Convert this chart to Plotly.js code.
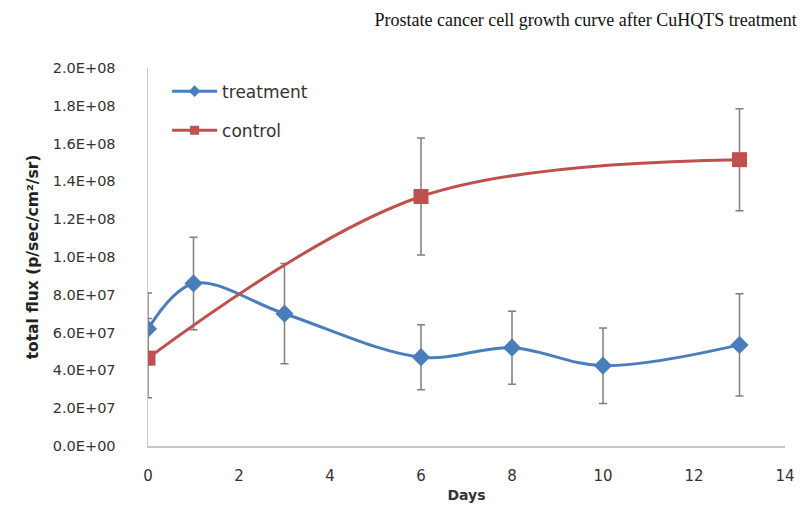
<!DOCTYPE html>
<html>
<head>
<meta charset="utf-8">
<script src="https://cdn.plot.ly/plotly-3.0.1.min.js"></script>
<style>html,body{margin:0;padding:0;background:#fff;}#chart{width:800px;height:513px;}</style>
</head>
<body>
<div id="chart"></div>
<script>
const treatmentDays = [0, 1, 3, 6, 8, 10, 13];
const treatmentFlux = [6.2e7, 8.6e7, 7.0e7, 4.7e7, 5.2e7, 4.25e7, 5.35e7];
const treatmentErr  = [1.9e7, 2.45e7, 2.65e7, 1.72e7, 1.93e7, 2.0e7, 2.7e7];

const controlDays = [0, 6, 13];
const controlFlux = [4.65e7, 1.32e8, 1.515e8];
const controlErr  = [2.1e7, 3.1e7, 2.7e7];

const yTickVals = [0, 2e7, 4e7, 6e7, 8e7, 1e8, 1.2e8, 1.4e8, 1.6e8, 1.8e8, 2e8];
const yTickText = ["0.0E+00","2.0E+07","4.0E+07","6.0E+07","8.0E+07","1.0E+08","1.2E+08","1.4E+08","1.6E+08","1.8E+08","2.0E+08"];
const xTickVals = [0, 2, 4, 6, 8, 10, 12, 14];

const blue = '#4A7EBB', red = '#C0504D';
const errStyle = {type: 'data', visible: true, color: '#7f7f7f', thickness: 1.5, width: 4};

const traces = [
  {
    x: treatmentDays, y: treatmentFlux, name: 'treatment', showlegend: false,
    mode: 'lines+markers', type: 'scatter',
    line: {color: blue, width: 3, shape: 'spline', smoothing: 1},
    marker: {symbol: 'diamond', size: 14, color: blue},
    error_y: Object.assign({array: treatmentErr}, errStyle)
  },
  {
    x: controlDays, y: controlFlux, name: 'control', showlegend: false,
    mode: 'lines+markers', type: 'scatter',
    line: {color: red, width: 3, shape: 'spline', smoothing: 1},
    marker: {symbol: 'square', size: 15, color: red},
    error_y: Object.assign({array: controlErr}, errStyle)
  },
  {
    x: [null], y: [null], name: 'treatment', legendgroup: 'a',
    mode: 'lines+markers', type: 'scatter',
    line: {color: blue, width: 3}, marker: {symbol: 'diamond', size: 9, color: blue}
  },
  {
    x: [null], y: [null], name: 'control', legendgroup: 'b',
    mode: 'lines+markers', type: 'scatter',
    line: {color: red, width: 3}, marker: {symbol: 'square', size: 9, color: red}
  }
];

const sans = 'DejaVu Sans, Verdana, sans-serif';
const tickFont = {family: sans, size: 14.5, color: '#333'};

const layout = {
  width: 800, height: 513,
  paper_bgcolor: '#fff', plot_bgcolor: '#fff',
  margin: {l: 148, r: 15, t: 68, b: 67},
  title: {
    text: 'Prostate cancer cell growth curve after CuHQTS treatment',
    font: {family: 'Liberation Serif, Times New Roman, serif', size: 18, color: '#111'},
    xref: 'container', x: 0.732, xanchor: 'center',
    yref: 'container', y: 0.962, yanchor: 'middle'
  },
  xaxis: {
    range: [0, 14], tickvals: xTickVals, ticktext: xTickVals.map(String),
    showgrid: false, zeroline: false, showline: true, linecolor: '#c8c8c8', linewidth: 1.5,
    ticks: '', tickfont: {family: sans, size: 15, color: '#333'}, ticklabelstandoff: 15,
    title: {text: 'Days', font: {family: sans, size: 14, color: '#333', weight: 'bold'}, standoff: 6}
  },
  yaxis: {
    range: [0, 2e8], tickvals: yTickVals, ticktext: yTickText,
    showgrid: false, zeroline: false, showline: true, linecolor: '#c8c8c8', linewidth: 1.5,
    ticks: '', tickfont: tickFont, ticklabelstandoff: 28,
    title: {text: 'total flux (p/sec/cm²/sr)', font: {family: sans, size: 15.5, color: '#222', weight: 'bold'}, standoff: 10}
  },
  legend: {
    x: 0.03, y: 0.985, xanchor: 'left', yanchor: 'top',
    bgcolor: 'rgba(0,0,0,0)', tracegroupgap: 14, itemwidth: 45,
    font: {family: sans, size: 17, color: '#333'}
  },
  showlegend: true
};

Plotly.newPlot('chart', traces, layout, {displayModeBar: false, staticPlot: true});
</script>
</body>
</html>
